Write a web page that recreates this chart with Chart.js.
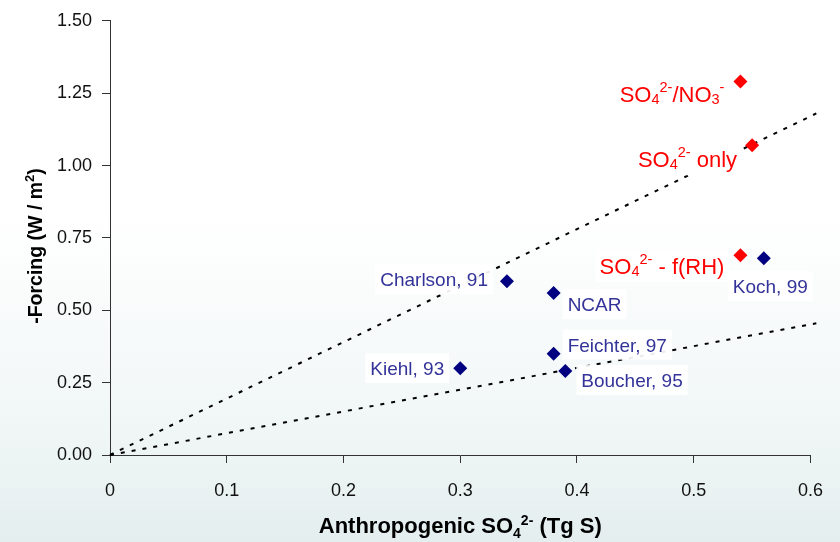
<!DOCTYPE html>
<html>
<head>
<meta charset="utf-8">
<script src="https://cdn.jsdelivr.net/npm/chart.js@4/dist/chart.umd.min.js"></script>
<style>
  html, body { margin: 0; padding: 0; background: #ffffff; }
  canvas { display: block; }
</style>
</head>
<body>
<canvas id="chart" width="840" height="542"></canvas>
<script>
// Published model estimates: sulfate burden (Tg S) vs. negative forcing (W/m2)
const studyNames   = ['Charlson, 91', 'NCAR', 'Feichter, 97', 'Boucher, 95', 'Kiehl, 93', 'Koch, 99'];
const studyBurden  = [0.34, 0.38, 0.38, 0.39, 0.30, 0.56];
const studyForcing = [0.60, 0.56, 0.35, 0.29, 0.30, 0.68];

// Sensitivity cases (label text split into normal / subscript / superscript runs)
const caseNames = [
  [['SO'], ['4', 'sub'], ['2-', 'sup'], ['/NO'], ['3', 'sub'], ['-', 'sup']],
  [['SO'], ['4', 'sub'], ['2-', 'sup'], [' only']],
  [['SO'], ['4', 'sub'], ['2-', 'sup'], [' - f(RH)']]
];
const caseBurden  = [0.54, 0.55, 0.54];
const caseForcing = [1.29, 1.07, 0.69];

// Reference forcing-efficiency lines through the origin
const upperLineX = [0, 0.605];
const upperLineY = [0, 1.18];
const lowerLineX = [0, 0.605];
const lowerLineY = [0, 0.455];

// Axis ranges and tick steps
const xRange = [0, 0.6];
const xStep = 0.1;
const yRange = [0, 1.5];
const yStep = 0.25;

const xTitle = [['Anthropogenic SO'], ['4', 'sub'], ['2-', 'sup'], [' (Tg S)']];
const yTitle = [['-Forcing (W / m'], ['2', 'sup'], [')']];

const toPoints = (xs, ys) => xs.map((x, i) => ({ x: x, y: ys[i] }));

// Label placement relative to each marker (pixels): [dx, dy, align]
const studyLabelPos = [[-19, -2, 'right'], [14, 11, 'left'], [14, -9, 'left'], [16, 9, 'left'], [-16, 0, 'right'], [-31, 28, 'left']];
const caseLabelPos = [[-16, 12.5, 'right'], [-15, 14, 'right'], [-16, 10.5, 'right']];

const FONT = '"Liberation Sans", Arial, Helvetica, sans-serif';
const BLUE_TEXT = '#333399';
const NAVY = '#000080';
const RED = '#ff0000';

let bgGradient = null;
function getGradient(ctx, h) {
  if (!bgGradient) {
    bgGradient = ctx.createLinearGradient(0, 0, 0, h);
    bgGradient.addColorStop(0, '#ffffff');
    bgGradient.addColorStop(0.4, '#ffffff');
    bgGradient.addColorStop(0.8, '#f0f6f6');
    bgGradient.addColorStop(1, '#e4eeee');
  }
  return bgGradient;
}

// Rich text: runs of normal / sub / sup text
function runFont(kind, size, small, bold) {
  const s = kind ? small : size;
  return (bold ? 'bold ' : '') + s + 'px ' + FONT;
}
function richWidth(ctx, runs, o) {
  let w = 0;
  runs.forEach(r => { ctx.font = runFont(r[1], o.size, o.small, o.bold); w += ctx.measureText(r[0]).width; });
  return w;
}
function drawRich(ctx, runs, x, baseline, o) {
  let cx = x;
  ctx.textBaseline = 'alphabetic';
  ctx.textAlign = 'left';
  runs.forEach(r => {
    ctx.font = runFont(r[1], o.size, o.small, o.bold);
    const dy = r[1] === 'sub' ? o.subDy : (r[1] === 'sup' ? o.supDy : 0);
    ctx.fillText(r[0], cx, baseline + dy);
    cx += ctx.measureText(r[0]).width;
  });
}

const backgroundPlugin = {
  id: 'pageBackground',
  beforeDraw(chart) {
    const ctx = chart.ctx;
    ctx.save();
    ctx.fillStyle = getGradient(ctx, chart.height);
    ctx.fillRect(0, 0, chart.width, chart.height);
    ctx.restore();
  }
};

const labelPlugin = {
  id: 'pointLabels',
  afterDatasetsDraw(chart) {
    const ctx = chart.ctx;
    const xs = chart.scales.x, ys = chart.scales.y;
    ctx.save();
    // study names
    const bSize = 19;
    studyNames.forEach((name, i) => {
      const px = xs.getPixelForValue(studyBurden[i]);
      const py = ys.getPixelForValue(studyForcing[i]);
      const [dx, dy, align] = studyLabelPos[i];
      ctx.font = bSize + 'px ' + FONT;
      const w = ctx.measureText(name).width;
      const left = align === 'right' ? px + dx - w : px + dx;
      const cy = py + dy;
      ctx.fillStyle = 'rgba(255,255,255,0.92)';
      ctx.fillRect(left - 5, cy - 15, w + 10, 30);
      ctx.fillStyle = BLUE_TEXT;
      ctx.textAlign = 'left';
      ctx.textBaseline = 'alphabetic';
      ctx.fillText(name, left, cy + bSize * 0.36);
    });
    // sensitivity case labels
    const rOpt = { size: 22, small: 14.5, bold: false, subDy: 2, supDy: -10 };
    caseNames.forEach((runs, i) => {
      const px = xs.getPixelForValue(caseBurden[i]);
      const py = ys.getPixelForValue(caseForcing[i]);
      const [dx, dy, align] = caseLabelPos[i];
      const w = richWidth(ctx, runs, rOpt);
      const left = align === 'right' ? px + dx - w : px + dx;
      const cy = py + dy;
      ctx.fillStyle = '#ffffff';
      ctx.fillRect(left - 4, cy - 17, w + 8, 33);
      ctx.fillStyle = RED;
      drawRich(ctx, runs, left, cy + rOpt.size * 0.36, rOpt);
    });
    ctx.restore();
  },
  afterDraw(chart) {
    const ctx = chart.ctx;
    const area = chart.chartArea;
    ctx.save();
    ctx.fillStyle = '#000000';
    // x title
    const xo = { size: 22, small: 14, bold: true, subDy: 5, supDy: -8 };
    const xw = richWidth(ctx, xTitle, xo);
    const xc = (area.left + area.right) / 2;
    drawRich(ctx, xTitle, xc - xw / 2, 533, xo);
    // y title (rotated)
    const yo = { size: 19.5, small: 13, bold: true, subDy: 5, supDy: -8 };
    const yw = richWidth(ctx, yTitle, yo);
    ctx.translate(42, 246);
    ctx.rotate(-Math.PI / 2);
    drawRich(ctx, yTitle, -yw / 2, 0, yo);
    ctx.restore();
  }
};

new Chart(document.getElementById('chart'), {
  type: 'scatter',
  data: {
    datasets: [
      {
        label: 'Studies',
        data: toPoints(studyBurden, studyForcing),
        pointStyle: 'rectRot',
        pointRadius: 7,
        pointBackgroundColor: NAVY,
        pointBorderColor: NAVY,
        pointBorderWidth: 0,
        order: 1
      },
      {
        label: 'Cases',
        data: toPoints(caseBurden, caseForcing),
        pointStyle: 'rectRot',
        pointRadius: 7,
        pointBackgroundColor: RED,
        pointBorderColor: RED,
        pointBorderWidth: 0,
        order: 1
      },
      {
        label: 'Upper',
        data: toPoints(upperLineX, upperLineY),
        showLine: true,
        borderColor: '#000000',
        borderWidth: 2,
        borderDash: [4, 7],
        pointRadius: 0,
        clip: false,
        order: 2
      },
      {
        label: 'Lower',
        data: toPoints(lowerLineX, lowerLineY),
        showLine: true,
        borderColor: '#000000',
        borderWidth: 2,
        borderDash: [4, 7],
        pointRadius: 0,
        clip: false,
        order: 2
      }
    ]
  },
  options: {
    responsive: false,
    devicePixelRatio: 1,
    animation: false,
    events: [],
    layout: { padding: { top: 15, right: 29, left: 0, bottom: 0 } },
    plugins: { legend: { display: false }, tooltip: { enabled: false } },
    scales: {
      x: {
        type: 'linear',
        position: 'bottom',
        min: xRange[0],
        max: xRange[1],
        afterFit(scale) { scale.height = 87; },
        ticks: {
          stepSize: xStep,
          color: '#111111',
          padding: 17,
          font: { family: FONT, size: 18 },
          callback: v => (Math.abs(v) < 1e-9 ? '0' : v.toFixed(1))
        },
        grid: { drawOnChartArea: false, drawTicks: true, tickLength: 8, color: '#333333' },
        border: { display: true, color: '#333333', width: 1 }
      },
      y: {
        type: 'linear',
        position: 'left',
        min: yRange[0],
        max: yRange[1],
        afterFit(scale) { scale.width = 110; },
        ticks: {
          stepSize: yStep,
          color: '#111111',
          padding: 10,
          font: { family: FONT, size: 18 },
          callback: v => v.toFixed(2)
        },
        grid: { drawOnChartArea: false, drawTicks: true, tickLength: 8, color: '#333333' },
        border: { display: true, color: '#333333', width: 1 }
      }
    }
  },
  plugins: [backgroundPlugin, labelPlugin]
});
</script>
</body>
</html>
